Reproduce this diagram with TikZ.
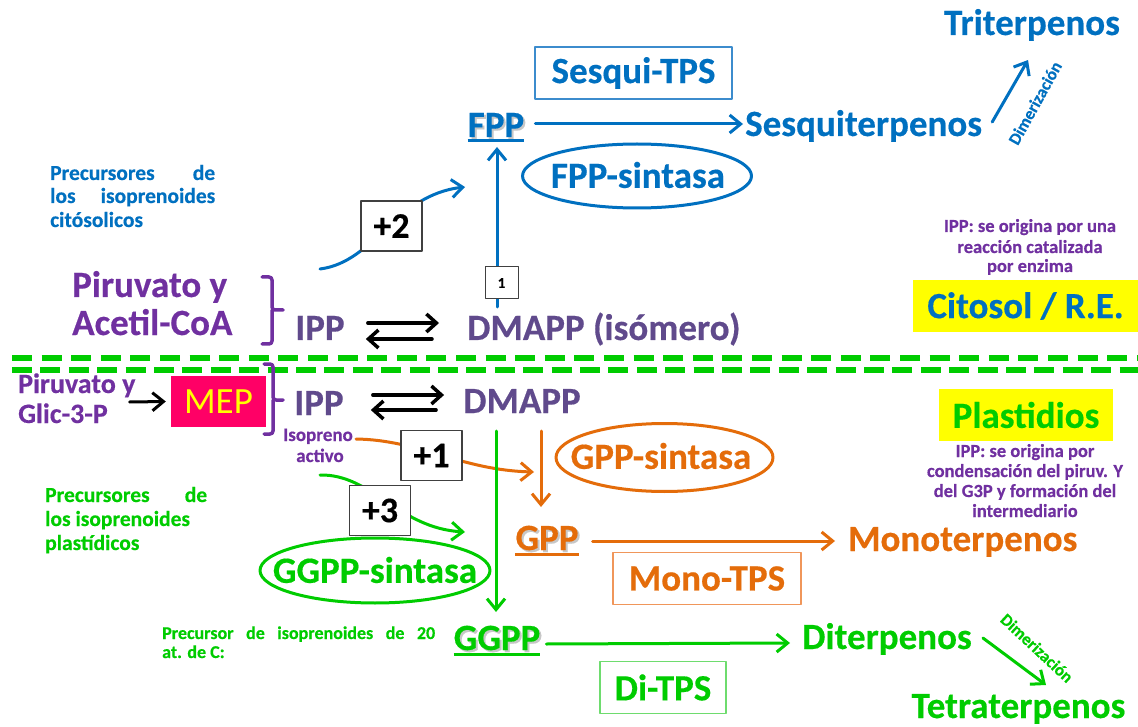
\documentclass[tikz,border=0pt]{standalone}
\usepackage{fontspec}
\setmainfont{Carlito}[BoldFeatures={FakeBold=0.4}]
\usetikzlibrary{arrows.meta,calc}
\definecolor{cblue}{RGB}{0,112,192}
\definecolor{cblueL}{RGB}{60,140,205}
\definecolor{cpurp}{RGB}{112,48,160}
\definecolor{cpurpD}{RGB}{96,74,140}
\definecolor{corange}{RGB}{228,108,10}
\definecolor{corangeL}{RGB}{240,150,90}
\definecolor{cgreen}{RGB}{0,204,0}
\definecolor{cgreenL}{RGB}{110,220,110}
\definecolor{cmag}{RGB}{255,0,102}
\definecolor{cyel}{RGB}{255,255,0}
\begin{document}
\begin{tikzpicture}[x=1pt,y=-1pt,line cap=round,line join=round,
  big/.style={font=\fontsize{37}{40}\selectfont\bfseries,inner sep=0pt},
  mid/.style={font=\fontsize{28}{30}\selectfont\bfseries,inner sep=0pt},
  prec/.style={font=\fontsize{21.5}{24}\selectfont\bfseries,inner sep=0pt,anchor=base west},
  note/.style={font=\fontsize{18.5}{20}\selectfont\bfseries,inner sep=0pt,anchor=base,text=cpurp},
  tiny/.style={font=\fontsize{17}{18}\selectfont\bfseries,inner sep=0pt},
  arr/.style={line width=3pt,-{Straight Barb[length=11pt,width=18pt]}},
  eqarr/.style={line width=3.5pt,black,-{Straight Barb[length=10pt,width=18pt]}},
  plusbox/.style={draw=black!75,line width=1.5pt,fill=white,minimum width=61pt,minimum height=50pt,font=\fontsize{36}{38}\selectfont\bfseries,text=black,inner sep=0pt},
  tpsbox/.style={big,line width=1.5pt,minimum height=52pt,fill=white},
  shadowtxt/.style={big,anchor=base,text=black!22},
  brk/.style={line width=3.5pt,cpurp,rounded corners=3pt},
  dashln/.style={line width=6pt,cgreen,line cap=butt}
]
\fill[white] (0,0) rectangle (1138,727);
\useasboundingbox (0,0) rectangle (1138,727);

% ---------- membrane (dashed lines) ----------
\coordinate (m1a) at (12,358); \coordinate (m1b) at (1138,358);
\coordinate (m2a) at (12,370); \coordinate (m2b) at (1138,370);
\draw[dashln,dash pattern=on 20pt off 9.6pt] (m1a) -- (m1b);
\draw[dashln,dash pattern=on 20pt off 8.4pt] (m2a) -- (m2b);

% ---------- cytosol part ----------
\node[big,text=cblue,anchor=base] (trit) at (1032,35) {Triterpenos};
\node[big,text=cblue,anchor=base west] (sesq) at (745,136) {Sesquiterpenos};
\node[shadowtxt] at (498,139) {FPP};
\node[big,text=cblue,anchor=base] (fpp) at (496,137) {FPP};
\draw[cblue,line width=3pt,line cap=butt] ($(fpp.base west)+(0,4)$) -- ($(fpp.base east)+(0,4)$);
\node[tpsbox,draw=cblueL,minimum width=197pt,text=cblue] (stps) at (633.5,73) {Sesqui-TPS};
\node[big,text=cblue] (fpps) at (638,175) {FPP-sintasa};
\draw[cblue,line width=3pt] (637,176) ellipse [x radius=114.5pt,y radius=32pt];

\draw[arr,cblue] ($(fpp.base east)+(11,-13)$) -- ($(sesq.base west)+(-2,-12)$);
\draw[arr,cblue] ($(sesq.base east)+(10,-14)$) -- ($(trit.base)+(-4,25)$);
\node[tiny,text=cblue,rotate=61] (bdim) at (1035,103) {Dimerización};

\node[prec,text=cblue] (bp1) at (50,180) {\makebox[165pt][s]{Precursores de}};
\node[prec,text=cblue] (bp2) at (50,203) {\makebox[165pt][s]{los isoprenoides}};
\node[prec,text=cblue] (bp3) at (50,227) {citósolicos};

\node[big,text=cpurp,anchor=base west] (pir1) at (72,297) {Piruvato y};
\node[big,text=cpurp,anchor=base west] (acet) at (72,335) {Acetil-CoA};
\draw[brk] (262,277) -- (272,277) -- (272,310) -- (283,310);
\draw[brk] (272,310) -- (272,344) -- (262,344);

\node[big,text=cpurpD,anchor=base] (ipp1) at (320,340) {IPP};
\node[big,text=cpurpD,anchor=base west] (dmapp1) at (467,340) {DMAPP (isómero)};
\draw[eqarr] ($(ipp1.base east)+(23,-17)$) -- ($(dmapp1.base west)+(-28,-17)$);
\draw[eqarr] ($(dmapp1.base west)+(-35,-1)$) -- ($(ipp1.base east)+(21,-1)$);

% FPP synthesis
\draw[arr,cblue] ($(dmapp1.base west)+(30,-33)$) -- ($(fpp.base)+(1,10)$);
\node[draw=black!75,line width=1pt,fill=white,minimum width=33pt,minimum height=32pt,inner sep=0pt,font=\fontsize{15}{16}\selectfont\bfseries] (one) at (501.5,283) {1};
\coordinate (c2s) at (320,269);
\coordinate (c2e) at (465,187);
\draw[arr,cblue] (c2s) .. controls (375,262) and (395,195) .. (c2e);
\node[plusbox] (p2) at (391.5,226) {+2};

\node[note] (n1a) at (1030,232) {IPP: se origina por una};
\node[note] (n1b) at (1030,253) {reacción catalizada};
\node[note] (n1c) at (1030,272) {por enzima};
\node[big,fill=cyel,minimum width=225pt,minimum height=52pt,text=cblue] (cito) at (1025.5,306) {Citosol / R.E.};

% ---------- plastid part ----------
\node[mid,text=cpurp,anchor=base west] (pir2) at (18,393) {Piruvato y};
\node[mid,text=cpurp,anchor=base west] (glic) at (18,423) {Glic-3-P};
\node[fill=cmag,minimum width=95pt,minimum height=51pt,inner sep=0pt,font=\fontsize{37}{40}\selectfont,text=cyel] (mep) at (218.5,401.5) {MEP};
\draw[arr,black] ($(pir2.base east)+(-6,9)$) -- ($(mep.west)+(-5,0)$);
\draw[brk] (264,364) -- (273,364) -- (273,400) -- (283,400);
\draw[brk] (273,400) -- (273,434) -- (264,434);

\node[big,text=cpurpD,anchor=base] (ipp2) at (319,415) {IPP};
\node[big,text=cpurpD,anchor=base] (dmapp2) at (522,413) {DMAPP};
\draw[eqarr] ($(ipp2.base east)+(29,-20)$) -- ($(dmapp2.base west)+(-19,-18)$);
\draw[eqarr] ($(dmapp2.base west)+(-27,-3)$) -- ($(ipp2.base east)+(27,-5)$);

\node[font=\fontsize{19}{20}\selectfont\bfseries,inner sep=0pt,anchor=base,text=cpurp] (iso1) at (318,441) {Isopreno};
\node[font=\fontsize{19}{20}\selectfont\bfseries,inner sep=0pt,anchor=base,text=cpurp] (iso2) at (320,462) {activo};

% GPP branch
\node[shadowtxt] at (549,552) {GPP};
\node[big,text=corange,anchor=base] (gpp) at (547,550) {GPP};
\draw[corange,line width=3pt,line cap=butt] ($(gpp.base west)+(0,4)$) -- ($(gpp.base east)+(0,4)$);
\node[big,text=corange] (gpps) at (661,456) {GPP-sintasa};
\draw[corange,line width=3pt] (664.5,457.5) ellipse [x radius=108.5pt,y radius=34pt];
\draw[arr,corange] ($(dmapp2.base)+(19,18)$) -- ($(gpp.base)+(-6,-43)$);
\coordinate (c1s) at (356,439);
\coordinate (c1e) at (534,472);
\draw[arr,corange] (c1s) .. controls (420,440) and (460,470) .. (c1e);
\node[plusbox] (p1) at (431.5,455.5) {+1};
\node[big,text=corange,anchor=base west] (mono) at (848,551) {Monoterpenos};
\draw[arr,corange] ($(gpp.base east)+(14,-9)$) -- ($(mono.base west)+(-13,-10)$);
\node[tpsbox,draw=corangeL,minimum width=188pt,text=corange] (mtps) at (707,578.5) {Mono-TPS};

% GGPP branch
\node[prec,text=cgreen] (gp1) at (45,502) {\makebox[162pt][s]{Precursores de}};
\node[prec,text=cgreen] (gp2) at (45,526) {los isoprenoides};
\node[prec,text=cgreen] (gp3) at (45,550) {plastídicos};
\node[big,text=cgreen] (ggpps) at (375,570) {GGPP-sintasa};
\draw[cgreen,line width=3pt] (375,570.5) ellipse [x radius=115pt,y radius=32.5pt];
\coordinate (c3s) at (320,475);
\coordinate (c3e) at (465,532);
\draw[arr,cgreen] (c3s) .. controls (372,474) and (398,528) .. (c3e);
\node[plusbox] (p3) at (380,510.5) {+3};

\node[shadowtxt] at (499,652) {GGPP};
\node[big,text=cgreen,anchor=base] (ggpp) at (497,650) {GGPP};
\draw[cgreen,line width=3pt,line cap=butt] ($(ggpp.base west)+(0,4)$) -- ($(ggpp.base east)+(0,4)$);
\draw[arr,cgreen] ($(dmapp2.base)+(-26,18)$) -- ($(ggpp.base)+(-1,-38)$);
\node[font=\fontsize{18}{19}\selectfont\bfseries,inner sep=0pt,anchor=base west,text=cgreen] (g20a) at (162,639) {\makebox[273pt][s]{Precursor de isoprenoides de 20}};
\node[font=\fontsize{18}{19}\selectfont\bfseries,inner sep=0pt,anchor=base west,text=cgreen] (g20b) at (162,658) {at. de C:};

\node[big,text=cgreen,anchor=base west] (dit) at (802,649) {Diterpenos};
\draw[arr,cgreen] ($(ggpp.base east)+(6,-6)$) -- ($(dit.base west)+(-12,-6)$);
\node[tpsbox,draw=cgreenL,minimum width=126pt,text=cgreen] (dtps) at (663,687.5) {Di-TPS};
\node[big,text=cgreen,anchor=base] (tetra) at (1018.5,718) {Tetraterpenos};
\draw[arr,cgreen] ($(dit.base east)+(11,-11)$) -- ($(tetra.base)+(27.5,-33)$);
\node[tiny,text=cgreen,rotate=-43] (gdim) at (1037,648) {Dimerización};

\node[big,fill=cyel,minimum width=174pt,minimum height=52pt,text=cgreen] (plast) at (1026,415) {Plastidios};
\node[note] (n2a) at (1025,457) {IPP: se origina por};
\node[note] (n2b) at (1025,477) {condensación del piruv. Y};
\node[note] (n2c) at (1025,497) {del G3P y formación del};
\node[note] (n2d) at (1025,517) {intermediario};
\end{tikzpicture}
\end{document}
